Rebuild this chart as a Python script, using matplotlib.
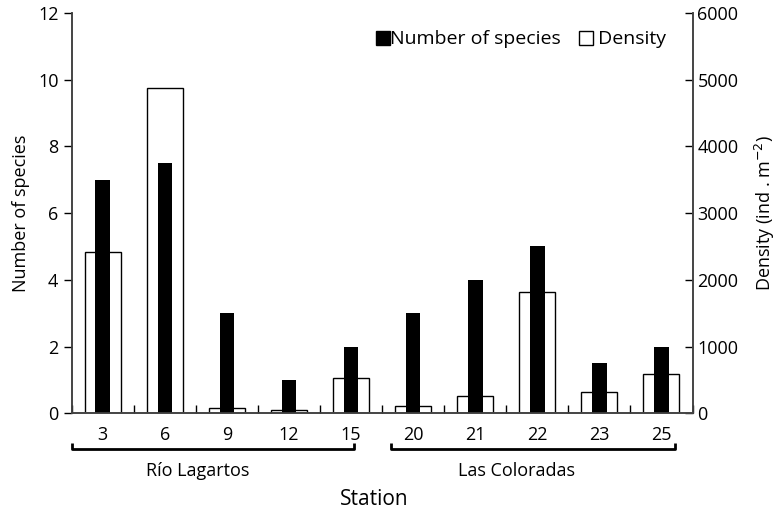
import matplotlib
matplotlib.use("Agg")
import matplotlib.pyplot as plt
from matplotlib.lines import Line2D
import numpy as np

stations = ["3", "6", "9", "12", "15", "20", "21", "22", "23", "25"]
species = [7, 7.5, 3, 1, 2, 3, 4, 5, 1.5, 2]
density = [2420, 4875, 75, 50, 525, 110, 255, 1815, 320, 595]
groups = [("Río Lagartos", -0.5, 4.05, 1.53), ("Las Coloradas", 4.65, 9.22, 6.67)]

plt.rcParams["font.family"] = ["Open Sans", "DejaVu Sans"]
plt.rcParams["font.size"] = 12

fig = plt.figure(figsize=(7.79, 5.14), dpi=100)
ax = fig.add_axes([0.092, 0.196, 0.797, 0.779])
ax2 = ax.twinx()
ax.set_zorder(ax2.get_zorder() + 1)
ax.patch.set_visible(False)

x = np.arange(len(stations))
ax2.bar(x, density, width=0.58, color="white", edgecolor="black", linewidth=1.0)
ax.bar(x, species, width=0.235, color="black")

ax.set_xlim(-0.5, len(stations) - 0.5)
ax.set_ylim(0, 12)
ax2.set_ylim(0, 6000)
ax.set_yticks(range(0, 13, 2))
ax2.set_yticks(range(0, 6001, 1000))

ax.set_xticks(x)
ax.set_xticklabels(stations, fontsize=13)
ax.tick_params(axis="x", which="major", length=0, pad=9)
ax.set_xticks(np.arange(-0.5, len(stations)), minor=True)
ax.tick_params(axis="x", which="minor", direction="in", length=6, width=1)
ax.tick_params(axis="y", direction="out", length=6, width=1, labelsize=13)
ax2.tick_params(axis="y", direction="in", length=6, width=1, labelsize=13)

for a in (ax, ax2):
    a.spines["top"].set_visible(False)
    for s in ("left", "right", "bottom"):
        a.spines[s].set_color("#444444")
        a.spines[s].set_linewidth(1.2)

ax.set_ylabel("Number of species", fontsize=13, labelpad=6)
ax2.set_ylabel("Density (ind . m$^{-2}$)", fontsize=13, labelpad=10)

# station groups with brackets
trans = ax.get_xaxis_transform()
for name, x0, x1, xc in groups:
    ax.plot([x0, x0, x1, x1], [-0.075, -0.09, -0.09, -0.075], color="black",
            lw=2, transform=trans, clip_on=False, solid_capstyle="butt")
    ax.text(xc, -0.145, name, transform=trans, ha="center", va="center",
            fontsize=13)
ax.text(4.37, -0.215, "Station", transform=trans, ha="center", va="center",
        fontsize=15)

handles = [
    Line2D([], [], marker="s", ls="none", color="black", markersize=10),
    Line2D([], [], marker="s", ls="none", markerfacecolor="white",
           markeredgecolor="black", markersize=10),
]
ax.legend(handles, ["Number of species", " Density"], loc="upper right",
          ncol=2, frameon=False, fontsize=14, handlelength=0.6,
          handletextpad=0.05, columnspacing=1.0, bbox_to_anchor=(0.985, 1.0))

fig.savefig("out.png", dpi=100)
